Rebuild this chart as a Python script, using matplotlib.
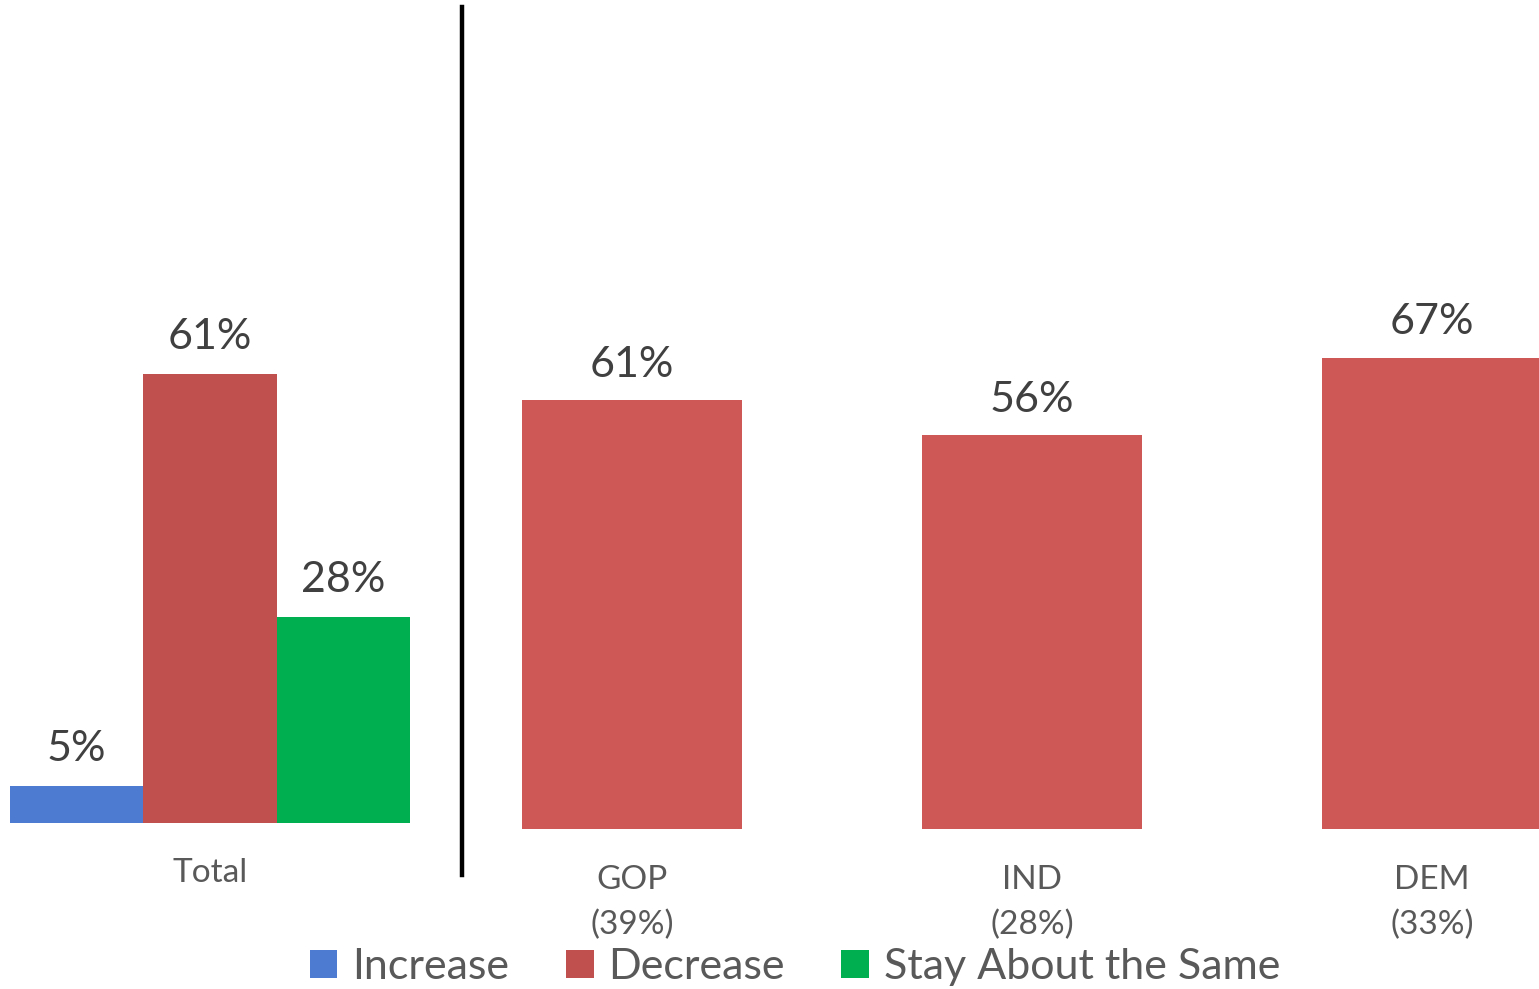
import matplotlib
matplotlib.use("Agg")
import matplotlib.pyplot as plt
from matplotlib.patches import Patch
from matplotlib.lines import Line2D

plt.rcParams['font.family'] = ['Lato', 'DejaVu Sans']

# Data
total_series = ["Increase", "Decrease", "Stay About the Same"]
total_values = [5, 61, 28]
party_labels = ["GOP\n(39%)", "IND\n(28%)", "DEM\n(33%)"]
party_decrease = [61, 56, 67]

colors_total = ["#4D7BD2", "#C0504D", "#00B050"]
color_party = "#CD5856"
val_color = "#404040"
lab_color = "#595959"

W, H = 1539, 989
fig = plt.figure(figsize=(W / 100, H / 100), dpi=100)

def fx(px):
    return px / W

def fy(py):
    return (H - py) / H

# Left panel: Total
L0, L1 = 10, 410
base_l, top_l = 823, 10
axL = fig.add_axes([fx(L0), fy(base_l), fx(L1 - L0), (base_l - top_l) / H])
pos = [-1, 0, 1]
axL.bar(pos, total_values, width=1.0, color=colors_total)
axL.set_xlim(-1.5, 1.5)
axL.set_ylim(0, (base_l - top_l) / 7.36)
for x, v in zip(pos, total_values):
    axL.annotate(f"{v}%", (x, v), xytext=(0, 13), textcoords="offset points",
                 ha="center", va="bottom", fontsize=31, color=val_color)
axL.set_xticks([0])
axL.set_xticklabels(["Total"], fontsize=24, color=lab_color)
axL.tick_params(axis="x", length=0, pad=25)
axL.set_yticks([])
for s in axL.spines.values():
    s.set_visible(False)

# Right panel: by party
R0, R1 = 432, 1540
base_r, top_r = 829, 10
axR = fig.add_axes([fx(R0), fy(base_r), fx(R1 - R0), (base_r - top_r) / H])
xs = list(range(len(party_labels)))
axR.bar(xs, party_decrease, width=0.55, color=color_party)
axR.set_xlim(-0.5, 2.27)
axR.set_ylim(0, (base_r - top_r) / 7.03)
for x, v in zip(xs, party_decrease):
    axR.annotate(f"{v}%", (x, v), xytext=(0, 12), textcoords="offset points",
                 ha="center", va="bottom", fontsize=31, color=val_color)
axR.set_xticks(xs)
axR.set_xticklabels(party_labels, fontsize=24, color=lab_color, linespacing=1.6)
axR.tick_params(axis="x", length=0, pad=26)
axR.set_yticks([])
for s in axR.spines.values():
    s.set_visible(False)

# Divider line
fig.add_artist(Line2D([fx(462), fx(462)], [fy(7), fy(875)], color="black", lw=3.2))

# Legend
handles = [Patch(facecolor=c, edgecolor="none") for c in colors_total]
fig.legend(handles, total_series, loc="center", bbox_to_anchor=(fx(795), fy(967)),
           ncol=3, frameon=False, fontsize=31, labelcolor=lab_color,
           handlelength=0.65, handleheight=0.65, handletextpad=0.35, columnspacing=1.3)

fig.savefig("out.png", dpi=100)
